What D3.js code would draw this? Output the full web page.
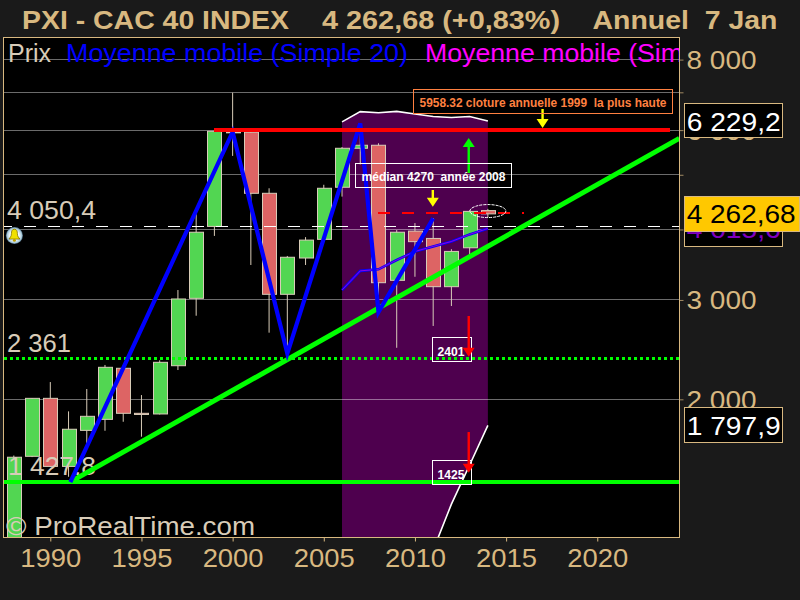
<!DOCTYPE html>
<html><head><meta charset="utf-8">
<style>
html,body{margin:0;padding:0;background:#1a1a1a;overflow:hidden}
text{font-family:"Liberation Sans",Arial,sans-serif;white-space:pre}
</style>
<script src="https://cdn.jsdelivr.net/npm/d3@7"></script>
</head><body><svg id="c" width="800" height="600"></svg>
<script>
// ---- candles (annual) ----
const years  = [1988,1989,1990,1991,1992,1993,1994,1995,1996,1997,1998,1999,2000,2001,2002,2003,2004,2005,2006,2007,2008,2009,2010,2011,2012,2013,2014];
const opens  = [1000,1585,2008,1521,1762,1843,2270,1889,1884,2294,3020,4050,5958,5948,4636,3070,3560,3842,4752,5571,5640,3250,3973,3856,3167,3712,4320];
const highs  = [1590,2010,2146,1904,2086,2301,2280,2035,2345,3124,4256,5990,6990,5960,4732,3590,3877,4800,5600,6168,5686,3990,4105,4191,3690,4320,4350];
const lows   = [1000,1580,1517,1458,1664,1759,1825,1717,1880,2254,2813,3896,5400,3460,2625,2413,3460,3830,4574,5217,2865,2468,3298,2698,2927,3588,4200];
const closes = [1579,2008,1521,1770,1866,2279,1889,1880,2326,3012,3955,5971,5948,4636,3070,3571,3830,4732,5571,5640,3219,3955,3806,3167,3657,4306,4262.68];
// ---- Bollinger + moving average ----
const bandYears = [2006,2007,2008,2009,2010,2011,2012,2013,2014];
const bandUpper = [6204,6470,6440,6476,6407,6343,6317,6343,6229.2];
const bandLower = [900,900,950,1000,1040,1081,1304,1530,1797.9];
const maValues  = [3124,3378,3400,3531,3656,3733,3808,3920,4015.6];
// ---- hand-drawn lines ----
const zigYears  = [1991.1,2000,2003,2007,2008,2011];
const zigValues = [1427,5954,2410,6168,2856,4188];
const trendYears  = [1991.1,2024.5];
const trendValues = [1427.8,5802];
const supportLow = 1427.8, supportMid = 2361, resistance = 5995, medianLevel = 4270, refLevel = 4050.4;
// ---- axis ticks ----
const xTicks = [1990,1995,2000,2005,2010,2015,2020];
const yGrid  = [2000,3000,4000,5000,6000,7000,8000];
const tickLabels = {2000:"2 000",3000:"3 000",4000:"4 000",6000:"6 000",8000:"8 000"};
// ---- annotations ----
const noteLabels = ["5958.32 cloture annuelle 1999  la plus haute","médian 4270  année 2008","2401","1425"];
const noteColors = ["#ff8040","#ffffff","#ffffff","#ffffff"];
const noteX0 = [2009.92,2006.73,2010.95,2010.95];
const noteX1 = [2024.09,2015.25,2013.06,2013.06];
const noteTop = [7090,5240,2576,1559];
const noteBottom = [6443,4763,2342,1417];
const arrowYears = [2017,2012.95,2010.98,2012.95,2012.95];
const arrowFrom  = [6541,5037,4700,2810,1750];
const arrowTo    = [6053,5811,4389,2380,1482];
const arrowColors= ["#ffff00","#00ff00","#ffff00","#ff0000","#ff0000"];

const tan="#d8b880", soft="#d8ccb8";
const L=3.5,R=679.5,T=37.5,B=537.5;
const x=d3.scaleLinear().domain([1987.433,2024.51]).range([L,R]);
const y=d3.scaleLog().domain([1138,8755]).range([B,T]);
const svg=d3.select("#c");
svg.append("rect").attr("width",800).attr("height",600).attr("fill","#1a1a1a");
svg.append("rect").attr("x",L).attr("y",T).attr("width",R-L).attr("height",B-T).attr("fill","#000");
const defs=svg.append("defs");
defs.append("clipPath").attr("id","plot").append("rect").attr("x",L).attr("y",T).attr("width",R-L).attr("height",B-T);
const rg=defs.append("radialGradient").attr("id","bg");
rg.append("stop").attr("offset","0.55").attr("stop-color","#f4fbff");
rg.append("stop").attr("offset","0.85").attr("stop-color","#a8c8d8");
rg.append("stop").attr("offset","1").attr("stop-color","#4a6a80");
const P=svg.append("g").attr("clip-path","url(#plot)");

function txt(g,s,xp,yp,size,w,col,weight){
  const t=g.append("text").attr("x",xp).attr("y",yp).attr("font-size",size).attr("fill",col).text(s);
  if(w){t.attr("textLength",w).attr("lengthAdjust","spacingAndGlyphs");}
  if(weight)t.attr("font-weight",weight);
  return t;
}
const idx=d3.range(bandYears.length);
// band
P.append("path").attr("fill","#4e004e").attr("d",d3.area().x(i=>x(bandYears[i])).y0(i=>y(bandLower[i])).y1(i=>y(bandUpper[i]))(idx));
// grid
P.selectAll(".g").data(yGrid).join("line").attr("x1",L).attr("x2",R).attr("y1",d=>y(d)).attr("y2",d=>y(d))
 .attr("stroke","#fff").attr("stroke-opacity",.42).attr("stroke-width",1).attr("shape-rendering","crispEdges");
// band lines
const bl=v=>d3.line().x(i=>x(bandYears[i])).y(i=>y(v[i]))(idx);
P.append("path").attr("d",bl(bandUpper)).attr("fill","none").attr("stroke","#fff").attr("stroke-width",1.6);
P.append("path").attr("d",bl(bandLower)).attr("fill","none").attr("stroke","#fff").attr("stroke-width",1.6);
// overlay labels under marks
txt(P,"Prix",8,61.7,25,43,soft);
txt(P,"Moyenne mobile (Simple 20)",66,61.7,25,342,"#0000ff");
txt(P,"Moyenne mobile (Sim",425,61.7,25,258,"#ff00ff");
// candles
const ci=d3.range(years.length);
P.selectAll(".w").data(ci).join("line").attr("x1",i=>x(years[i])).attr("x2",i=>x(years[i]))
 .attr("y1",i=>y(highs[i])).attr("y2",i=>y(lows[i])).attr("stroke",soft).attr("stroke-width",1);
P.selectAll(".b").data(ci).join("rect").attr("x",i=>Math.round(x(years[i]))-7+.5).attr("width",14)
 .attr("y",i=>y(Math.max(opens[i],closes[i]))).attr("height",i=>Math.max(1,Math.abs(y(opens[i])-y(closes[i]))))
 .attr("fill",i=>closes[i]>=opens[i]?"#52d652":"#dd6464").attr("stroke",soft).attr("stroke-width",1);
// reference dashed line
P.append("line").attr("x1",L).attr("x2",R).attr("y1",y(refLevel)).attr("y2",y(refLevel)).attr("stroke","#fff").attr("stroke-width",1)
 .attr("stroke-dasharray","12 12").attr("stroke-dashoffset",3.5).attr("shape-rendering","crispEdges");
// moving averages
P.append("path").attr("d",bl(maValues)).attr("fill","none").attr("stroke","#0000ff").attr("stroke-width",2.6);
P.append("path").attr("d",bl(maValues)).attr("fill","none").attr("stroke","#d000d0").attr("stroke-width",.7);
// levels
P.append("line").attr("x1",L).attr("x2",R).attr("y1",y(supportMid)).attr("y2",y(supportMid)).attr("stroke","#00ff00").attr("stroke-width",3).attr("stroke-dasharray","3 3").attr("shape-rendering","crispEdges");
P.append("line").attr("x1",L).attr("x2",R).attr("y1",y(supportLow)).attr("y2",y(supportLow)).attr("stroke","#00ff00").attr("stroke-width",4).attr("shape-rendering","crispEdges");
// left labels
txt(P,"4 050,4",7,219.3,25,89,soft);
txt(P,"2 361",7,351.7,25,64,soft);
txt(P,"1 427,8",8,475,25,88,soft);
txt(P,"© ProRealTime.com",6,535,25,249,soft);
// arrows
function arrow(i){
  const X=x(arrowYears[i]),a=y(arrowFrom[i]),b=y(arrowTo[i]),dir=b>a?1:-1,c=arrowColors[i];
  P.append("line").attr("x1",X).attr("x2",X).attr("y1",a).attr("y2",b-dir*6).attr("stroke",c).attr("stroke-width",2.4);
  P.append("path").attr("fill",c).attr("d",d3.line()([[X-6,b-dir*9],[X+6,b-dir*9],[X,b]])+"Z");
}
arrow(0);arrow(1);arrow(2);
// median dashed
P.append("line").attr("x1",x(2008)-.5).attr("x2",x(2016)).attr("y1",y(medianLevel)).attr("y2",y(medianLevel)).attr("stroke","#ff0000").attr("stroke-width",2).attr("stroke-dasharray","12 12").attr("shape-rendering","crispEdges");
// trend lines
P.append("path").attr("fill","none").attr("stroke","#00ff00").attr("stroke-width",5).attr("d",d3.line().x(i=>x(trendYears[i])).y(i=>y(trendValues[i]))([0,1]));
P.append("path").attr("fill","none").attr("stroke","#0000ff").attr("stroke-width",4.2).attr("stroke-linejoin","miter").attr("d",d3.line().x(i=>x(zigYears[i])).y(i=>y(zigValues[i]))(d3.range(zigYears.length)));
// resistance
P.append("line").attr("x1",x(1999)-.5).attr("x2",x(2024)).attr("y1",y(resistance)).attr("y2",y(resistance)).attr("stroke","#ff0000").attr("stroke-width",4).attr("shape-rendering","crispEdges");
// ellipse
P.append("ellipse").attr("cx",x(2014)).attr("cy",y(4312)).attr("rx",18).attr("ry",6.5).attr("fill","none").attr("stroke","#fff").attr("stroke-width",1).attr("stroke-dasharray","3 1");
// notes
noteLabels.forEach((s,i)=>{
  const x0=Math.round(x(noteX0[i]))+.5,x1=Math.round(x(noteX1[i]))+.5,t=Math.round(y(noteTop[i]))+.5,b=Math.round(y(noteBottom[i]))+.5;
  P.append("rect").attr("x",x0).attr("y",t).attr("width",x1-x0).attr("height",b-t).attr("fill","none").attr("stroke",i==0?"#ff8040":"#fff").attr("stroke-width",1);
  const w=[247,144,27,27][i],px=[12.5,13.5,13.5,13.5][i];
  const xs=i>1?x0+5:(x0+x1)/2-w/2;
  txt(P,s,xs,(t+b)/2+(i<2?5.7:6.5),px,w,noteColors[i],"bold");
});
arrow(3);arrow(4);
// bell
const bell=svg.append("g").attr("transform","translate(14.4,235.6)");
bell.append("circle").attr("r",8.5).attr("fill","url(#bg)");
bell.append("path").attr("fill","#f0e000").attr("stroke","#706000").attr("stroke-width",.7).attr("d","M0,-6.5C2.5,-6.5 3,-4 3,-2C3,1 4.5,2 5.5,3.5L-5.5,3.5C-4.5,2 -3,1 -3,-2C-3,-4 -2.5,-6.5 0,-6.5Z");
bell.append("circle").attr("cy",4.6).attr("r",1.5).attr("fill","#c0a000");
// frame
svg.append("rect").attr("x",L).attr("y",T).attr("width",R-L).attr("height",B-T).attr("fill","none").attr("stroke",tan).attr("stroke-width",1);
// axes
const ax=svg.append("g").attr("transform",`translate(0,${B})`).call(d3.axisBottom(x).tickValues(xTicks).tickFormat(d3.format("d")).tickSize(4).tickPadding(0));
ax.select(".domain").remove();
ax.selectAll("line").attr("stroke",tan);
ax.selectAll("text").attr("fill",tan).attr("font-size",25).attr("dy",0).attr("y",29.5).attr("textLength",61).attr("lengthAdjust","spacingAndGlyphs");
const ay=svg.append("g").attr("transform",`translate(${R},0)`).call(d3.axisRight(y).tickValues(yGrid).tickFormat(d=>tickLabels[d]||"").tickSize(4).tickPadding(0));
ay.select(".domain").remove();
ay.selectAll("line").attr("stroke",tan).attr("stroke-opacity",.7);
ay.selectAll("text").attr("fill",tan).attr("font-size",25).attr("x",7).attr("dy",8.9).attr("textLength",d=>tickLabels[d]?70:null).attr("lengthAdjust","spacingAndGlyphs");
// price boxes
function box(y0,y1,x1,fill,stroke,s,base,w,col){
  svg.append("rect").attr("x",684.5).attr("y",y0).attr("width",x1-684.5).attr("height",y1-y0).attr("fill",fill).attr("stroke",stroke);
  txt(svg,s,686.7,base,25,w,col);
}
const by1=y(6229.2),by2=y(1797.9),by3=y(4015.6),by4=y(4262.68);
box(Math.round(by1)-17.5,Math.round(by1)+16.5,782.5,"#000",tan,"6 229,2",by1+10,94,"#fff");
box(Math.round(by2)-17.5,Math.round(by2)+17.5,782.5,"#000",tan,"1 797,9",by2+10,94,"#fff");
box(Math.round(by3)-17.5,Math.round(by3)+17.5,782.5,"#000",tan,"4 015,6",by3+9.5,94,"#8000c0");
box(196.5,231.5,799.5,"#ffc800",tan,"4 262,68",by4+9.5,109,"#000");
// title
txt(svg,"PXI - CAC 40 INDEX",22,28.7,26.5,267,tan,"bold");
txt(svg,"4 262,68 (+0,83%)",322,28.7,26.5,238,tan,"bold");
txt(svg,"Annuel  7 Jan",592.5,28.7,26.5,185,tan,"bold");
</script></body></html>
